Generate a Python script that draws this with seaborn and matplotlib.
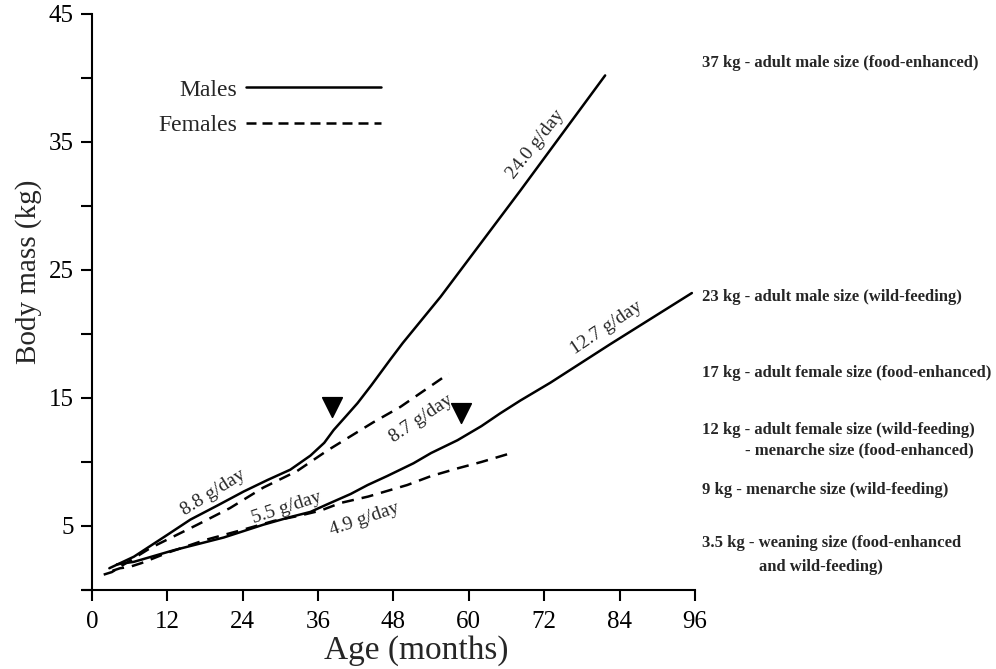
import pandas as pd
import matplotlib
matplotlib.use('Agg')
import matplotlib.pyplot as plt
from matplotlib.lines import Line2D
import seaborn as sns

#Growth curves (age in months, body mass in kg)
male_food_age = [2.8, 6.7, 12, 15.7, 20, 24.2, 28, 31.6, 34.8, 37, 38.5, 40.5, 42.3, 44.5, 47.5, 49.5, 55.5, 68.2, 81.7]
male_food_mass = [1.7, 2.6, 4.3, 5.5, 6.6, 7.7, 8.6, 9.4, 10.5, 11.5, 12.5, 13.6, 14.6, 16.0, 18.0, 19.3, 22.9, 31.2, 40.2]

female_food_age = [1.9, 3.2, 4.8, 9.4, 16.8, 22, 27.3, 32.7, 37.5, 44.8, 49.1, 56.8]
female_food_mass = [1.2, 1.4, 1.9, 3.3, 5.1, 6.4, 8.0, 9.3, 10.9, 13.1, 14.3, 16.9]

male_wild_age = [4.0, 6.7, 9.5, 13, 17, 21, 27.3, 31.6, 34.8, 37.5, 41.2, 43.9, 47, 51.2, 54, 58.2, 62, 65, 68.2, 73, 82.5, 95.5]
male_wild_mass = [2.0, 2.2, 2.6, 3.1, 3.6, 4.1, 5.1, 5.7, 6.1, 6.7, 7.5, 8.2, 8.9, 9.9, 10.7, 11.7, 12.8, 13.8, 14.8, 16.2, 19.2, 23.2]

female_wild_age = [3.3, 4.5, 6.0, 7.9, 12, 18, 24, 29, 33, 36.4, 39.6, 44, 50.2, 54, 58.2, 62, 66.1]
female_wild_mass = [1.5, 1.7, 1.8, 2.1, 2.9, 3.9, 4.7, 5.4, 5.8, 6.2, 6.8, 7.3, 8.2, 8.9, 9.5, 10.0, 10.6]

#Menarche / maturity arrows
tri_age = [38.3, 58.7]
tri_mass = [14.3, 13.8]

#Growth rate labels
rate_text = ['24.0 g/day', '12.7 g/day', '8.7 g/day', '8.8 g/day', '5.5 g/day', '4.9 g/day']
rate_age = [70.6, 81.9, 52.5, 19.3, 31.1, 43.4]
rate_mass = [34.8, 20.5, 13.4, 7.6, 6.4, 5.5]
rate_angle = [52, 34, 34, 32, 18, 19]

#Size notes on the right side
notes = ['37 kg - adult male size (food-enhanced)',
         '23 kg - adult male size (wild-feeding)',
         '17 kg - adult female size (food-enhanced)',
         '12 kg - adult female size (wild-feeding)',
         '- menarche size (food-enhanced)',
         '9 kg - menarche size (wild-feeding)',
         '3.5 kg - weaning size (food-enhanced',
         'and wild-feeding)']
notes_x = [0.705, 0.705, 0.705, 0.705, 0.748, 0.705, 0.705, 0.762]
notes_y = [0.906, 0.556, 0.442, 0.357, 0.327, 0.268, 0.188, 0.152]

#Long format table for seaborn
frames = []
for sex, diet, ages, masses in [('Males', 'food', male_food_age, male_food_mass),
                                ('Females', 'food', female_food_age, female_food_mass),
                                ('Males', 'wild', male_wild_age, male_wild_mass),
                                ('Females', 'wild', female_wild_age, female_wild_mass)]:
    frames.append(pd.DataFrame({'Age': ages, 'Mass': masses, 'Sex': sex, 'Group': sex + '_' + diet}))
growth = pd.concat(frames, ignore_index=True)

sns.set_style('ticks')
plt.rcParams['font.family'] = ['Liberation Serif', 'DejaVu Serif']

fig = plt.figure(figsize=(9.96, 6.69), dpi=100)
ax = fig.add_axes([0.0833, 0.1181, 0.6145, 0.861])

dash_style = {'Males': '', 'Females': (4.8, 3.2)}
sns.lineplot(data=growth, x='Age', y='Mass', style='Sex', units='Group', estimator=None,
             sort=False, dashes=dash_style, color='black', linewidth=1.8, legend=False, ax=ax)

sns.scatterplot(x=tri_age, y=tri_mass, marker='v', s=200, color='black', edgecolor='black', ax=ax)

for txt, xa, ym, ang in zip(rate_text, rate_age, rate_mass, rate_angle):
    ax.text(xa, ym, txt, rotation=ang, rotation_mode='anchor', ha='center', va='center', fontsize=14)

#Axes
ax.set_xlim(-1.4, 96)
ax.set_ylim(0, 45)
ax.set_xticks(range(0, 97, 12))
yt = list(range(0, 46, 5))
ax.set_yticks(yt)
ax.set_yticklabels(['' if v % 10 == 0 else str(v) for v in yt])
ax.spines['left'].set_position(('data', 0))
ax.spines['top'].set_visible(False)
ax.spines['right'].set_visible(False)
for s in ['left', 'bottom']:
    ax.spines[s].set_linewidth(1.5)
    ax.spines[s].set_color('black')
ax.tick_params(direction='out', length=8, width=1.5, labelsize=18, pad=5, colors='black')
ax.tick_params(axis='x', pad=7)

ax.set_xlabel('Age (months)', fontsize=24)
ax.set_ylabel('Body mass (kg)', fontsize=21)
ax.xaxis.set_label_coords(0.544, -0.078)
ax.yaxis.set_label_coords(-0.067, 0.552)

#Legend with the line keys on the right of the text
handles = [Line2D([], [], color='black', lw=1.8),
           Line2D([], [], color='black', lw=1.8, dashes=(4.0, 2.4))]
ax.legend(handles, ['Males', 'Females'], loc='upper left', bbox_to_anchor=(0.1225, 0.887),
          frameon=False, markerfirst=False, handlelength=5.7, handletextpad=0.4,
          labelspacing=0.58, borderpad=0, borderaxespad=0, fontsize=17)

for txt, nx, ny in zip(notes, notes_x, notes_y):
    fig.text(nx, ny, txt, fontsize=12, fontweight='bold', va='center', ha='left')

fig.savefig('out.png', dpi=100)
